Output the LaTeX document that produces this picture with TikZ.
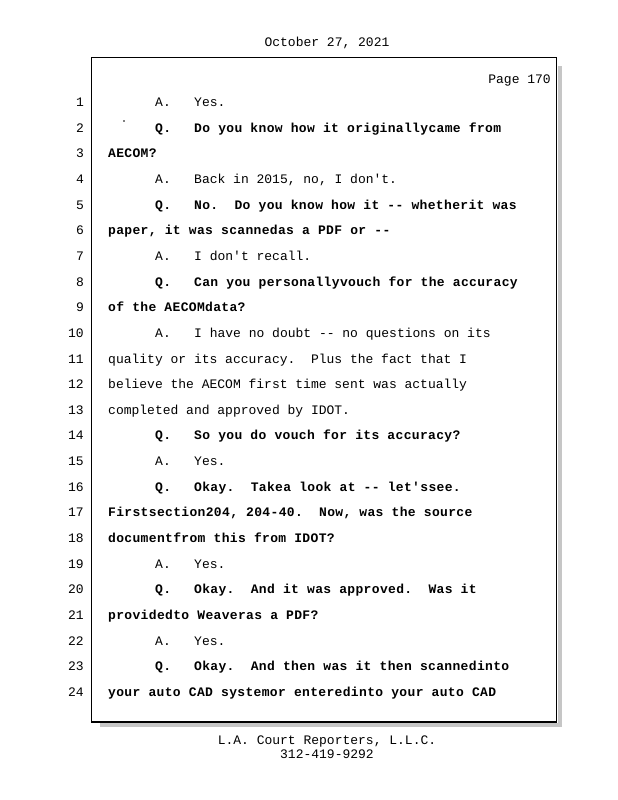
\documentclass[tikz,border=0pt]{standalone}
\usepackage{fontspec}
\setmonofont{Liberation Mono}
\newfontfamily\askfont[LetterSpace=2.6]{Liberation Mono}
\usetikzlibrary{positioning}

\begin{document}
\begin{tikzpicture}[x=1pt, y=-1pt,
	plain/.style={font=\ttfamily\fontsize{13}{15}\selectfont, inner sep=0pt, anchor=base west},
	ask/.style={plain, font=\askfont\bfseries\fontsize{13}{15}\selectfont},
	lineno/.style={plain, anchor=base east}]
	\useasboundingbox (0,0) rectangle (618,800);

	% page box with its shadow
	\fill[gray!45] (557.5,66) rectangle (562,726.5);
	\fill[gray!45] (100,722.5) rectangle (562,726.5);
	\draw[line width=1.2pt] (91.5,57.5) rectangle (556.5,722);

	\node[plain, anchor=base] (date) at (327,47) {October 27, 2021};
	\node[plain, anchor=base east] (page) at (551,83) {Page 170};

	% rows
	\foreach \n in {1,...,24} {
		\coordinate (r\n) at (108,{106.5+(\n-1)*25.65});
		\node[lineno] (n\n) at (84,{106.5+(\n-1)*25.65}) {\n};
	}

	\fill (124,121) circle (0.8);

	\node[plain, xshift=47] (s1) at (r1) {A.};
	\node[plain, xshift=86] (t1) at (r1) {Yes.};
	\node[ask, xshift=47] (s2) at (r2) {Q.};
	\node[ask, xshift=86] (t2) at (r2) {Do you know how it originallycame from};
	\node[ask] (t3) at (r3) {AECOM?};
	\node[plain, xshift=47] (s4) at (r4) {A.};
	\node[plain, xshift=86] (t4) at (r4) {Back in 2015, no, I don't.};
	\node[ask, xshift=47] (s5) at (r5) {Q.};
	\node[ask, xshift=86] (t5) at (r5) {No.\ \ Do you know how it -- whetherit was};
	\node[ask] (t6) at (r6) {paper, it was scannedas a PDF or --};
	\node[plain, xshift=47] (s7) at (r7) {A.};
	\node[plain, xshift=86] (t7) at (r7) {I don't recall.};
	\node[ask, xshift=47] (s8) at (r8) {Q.};
	\node[ask, xshift=86] (t8) at (r8) {Can you personallyvouch for the accuracy};
	\node[ask] (t9) at (r9) {of the AECOMdata?};
	\node[plain, xshift=47] (s10) at (r10) {A.};
	\node[plain, xshift=86] (t10) at (r10) {I have no doubt -- no questions on its};
	\node[plain] (t11) at (r11) {quality or its accuracy.\ \ Plus the fact that I};
	\node[plain] (t12) at (r12) {believe the AECOM first time sent was actually};
	\node[plain] (t13) at (r13) {completed and approved by IDOT.};
	\node[ask, xshift=47] (s14) at (r14) {Q.};
	\node[ask, xshift=86] (t14) at (r14) {So you do vouch for its accuracy?};
	\node[plain, xshift=47] (s15) at (r15) {A.};
	\node[plain, xshift=86] (t15) at (r15) {Yes.};
	\node[ask, xshift=47] (s16) at (r16) {Q.};
	\node[ask, xshift=86] (t16) at (r16) {Okay.\ \ Takea look at -- let'ssee.};
	\node[ask] (t17) at (r17) {Firstsection204, 204-40.\ \ Now, was the source};
	\node[ask] (t18) at (r18) {documentfrom this from IDOT?};
	\node[plain, xshift=47] (s19) at (r19) {A.};
	\node[plain, xshift=86] (t19) at (r19) {Yes.};
	\node[ask, xshift=47] (s20) at (r20) {Q.};
	\node[ask, xshift=86] (t20) at (r20) {Okay.\ \ And it was approved.\ \ Was it};
	\node[ask] (t21) at (r21) {providedto Weaveras a PDF?};
	\node[plain, xshift=47] (s22) at (r22) {A.};
	\node[plain, xshift=86] (t22) at (r22) {Yes.};
	\node[ask, xshift=47] (s23) at (r23) {Q.};
	\node[ask, xshift=86] (t23) at (r23) {Okay.\ \ And then was it then scannedinto};
	\node[ask] (t24) at (r24) {your auto CAD systemor enteredinto your auto CAD};

	% footer
	\node[plain, anchor=base] (firm) at (327,744) {L.A. Court Reporters, L.L.C.};
	\node[plain, anchor=base] (phone) at (327,758) {312-419-9292};
\end{tikzpicture}
\end{document}
